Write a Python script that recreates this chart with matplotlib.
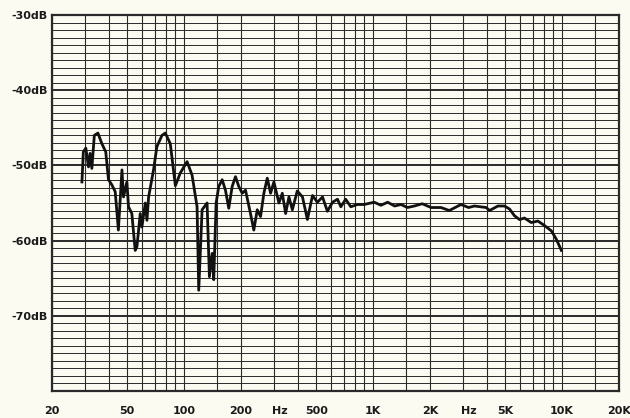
import matplotlib
matplotlib.use("Agg")
import matplotlib.pyplot as plt

# Frequency response trace (Hz, dB)
freq_hz = [28.8, 29.3, 30.2, 31.2, 31.8, 32.5, 33.5, 35.0, 36.7, 38.5, 39.8, 41.5,
           43.2, 44.9, 45.9, 46.9, 47.8, 49.8, 50.8, 52.9, 55.1, 56.3, 58.6, 59.8,
           62.3, 63.6, 64.9, 68.9, 71.8, 76.4, 79.5, 84.5, 89.9, 95.5, 103.7, 110.2,
           117.1, 119.5, 124.5, 132.3, 136.1, 140.7, 143.5, 147.7, 152.5, 159, 165.5,
           172.3, 179.6, 187, 194.7, 203, 211.3, 224.5, 233.8, 243.8, 253.8, 264.3,
           275.4, 286.8, 298.6, 317.4, 330.8, 344.5, 358.6, 373.9, 397, 423, 449, 478,
           507, 540, 573, 610, 648, 675, 716, 762, 826, 895, 1014, 1100, 1194, 1300,
           1404, 1520, 1652, 1820, 2024, 2286, 2530, 2918, 3200, 3436, 3964, 4130,
           4576, 4956, 5272, 5600, 5956, 6320, 6868, 7448, 8072, 8770, 9312, 9910]
level_db = [-52.2, -48.2, -47.7, -50.2, -48.4, -50.4, -46.0, -45.7, -47.1, -48.2, -51.9, -52.6,
            -53.5, -58.6, -54.6, -50.6, -54.2, -52.2, -55.5, -56.4, -61.3, -60.8, -56.4, -58.2,
            -55.0, -57.3, -54.2, -50.6, -47.5, -46.0, -45.7, -47.1, -52.7, -51.0, -49.5, -51.3,
            -55.5, -66.6, -55.9, -55.0, -64.8, -61.7, -65.2, -55.0, -52.8, -51.9, -53.3,
            -55.7, -52.8, -51.5, -52.8, -53.7, -53.3, -56.4, -58.6, -55.9, -56.8, -53.7,
            -51.7, -53.7, -52.2, -55.0, -53.7, -56.4, -54.2, -55.9, -53.4, -54.2, -57.2, -54.0,
            -54.9, -54.2, -56.1, -54.9, -54.5, -55.5, -54.5, -55.5, -55.2, -55.2, -54.9, -55.3, -54.9, -55.4,
            -55.2, -55.6, -55.4, -55.1, -55.6, -55.6, -56.0, -55.2, -55.6, -55.4, -55.6, -56.0,
            -55.4, -55.4, -55.8, -56.7, -57.2, -57.0, -57.6, -57.4, -58.0, -58.7, -59.8, -61.3]

# Chart-paper grid
grid_freqs = [20, 30, 40, 50, 60, 70, 80, 90, 100, 150, 200, 300, 400, 500, 600, 700, 800, 900,
              1000, 1500, 2000, 3000, 4000, 5000, 6000, 7000, 8000, 9000, 10000, 15000, 20000]
grid_db = list(range(-80, -29))
major_db = [-30, -40, -50, -60, -70]
y_labels = ["-30dB", "-40dB", "-50dB", "-60dB", "-70dB"]
x_tick_pos = [20, 50, 100, 200, 320, 500, 1000, 2000, 3200, 5000, 10000, 20000]
x_tick_labels = ["20", "50", "100", "200", "Hz", "500", "1K", "2K", "Hz", "5K", "10K", "20K"]

paper = "#fbfbf2"
ink = "#2a2a2a"

fig = plt.figure(figsize=(6.30, 4.18), dpi=100, facecolor=paper)
ax = fig.add_axes([52 / 630, 1 - 391 / 418, 567 / 630, 376 / 418])
ax.set_facecolor(paper)
ax.set_xscale("log")
ax.set_xlim(20, 20000)
ax.set_ylim(-80, -30)

for f in grid_freqs:
    ax.axvline(f, color=ink, lw=0.8, zorder=1)
for d in grid_db:
    lw = 1.4 if d % 10 == 0 else 0.7
    ax.axhline(d, color=ink, lw=lw, zorder=1)

ax.plot(freq_hz, level_db, color="#111111", lw=2.0, zorder=3, solid_joinstyle="round")

for s in ax.spines.values():
    s.set_linewidth(1.6)
    s.set_color(ink)

ax.set_yticks(major_db)
ax.set_yticklabels(y_labels)
ax.set_xticks(x_tick_pos)
ax.set_xticklabels(x_tick_labels)
ax.xaxis.set_minor_locator(matplotlib.ticker.NullLocator())
ax.tick_params(axis="both", length=0, labelsize=8, colors="#1a1a1a")
ax.tick_params(axis="y", pad=3)
ax.tick_params(axis="x", pad=11)
for lab in ax.get_xticklabels() + ax.get_yticklabels():
    lab.set_fontweight("bold")

fig.savefig("out.png", dpi=100, facecolor=paper)
